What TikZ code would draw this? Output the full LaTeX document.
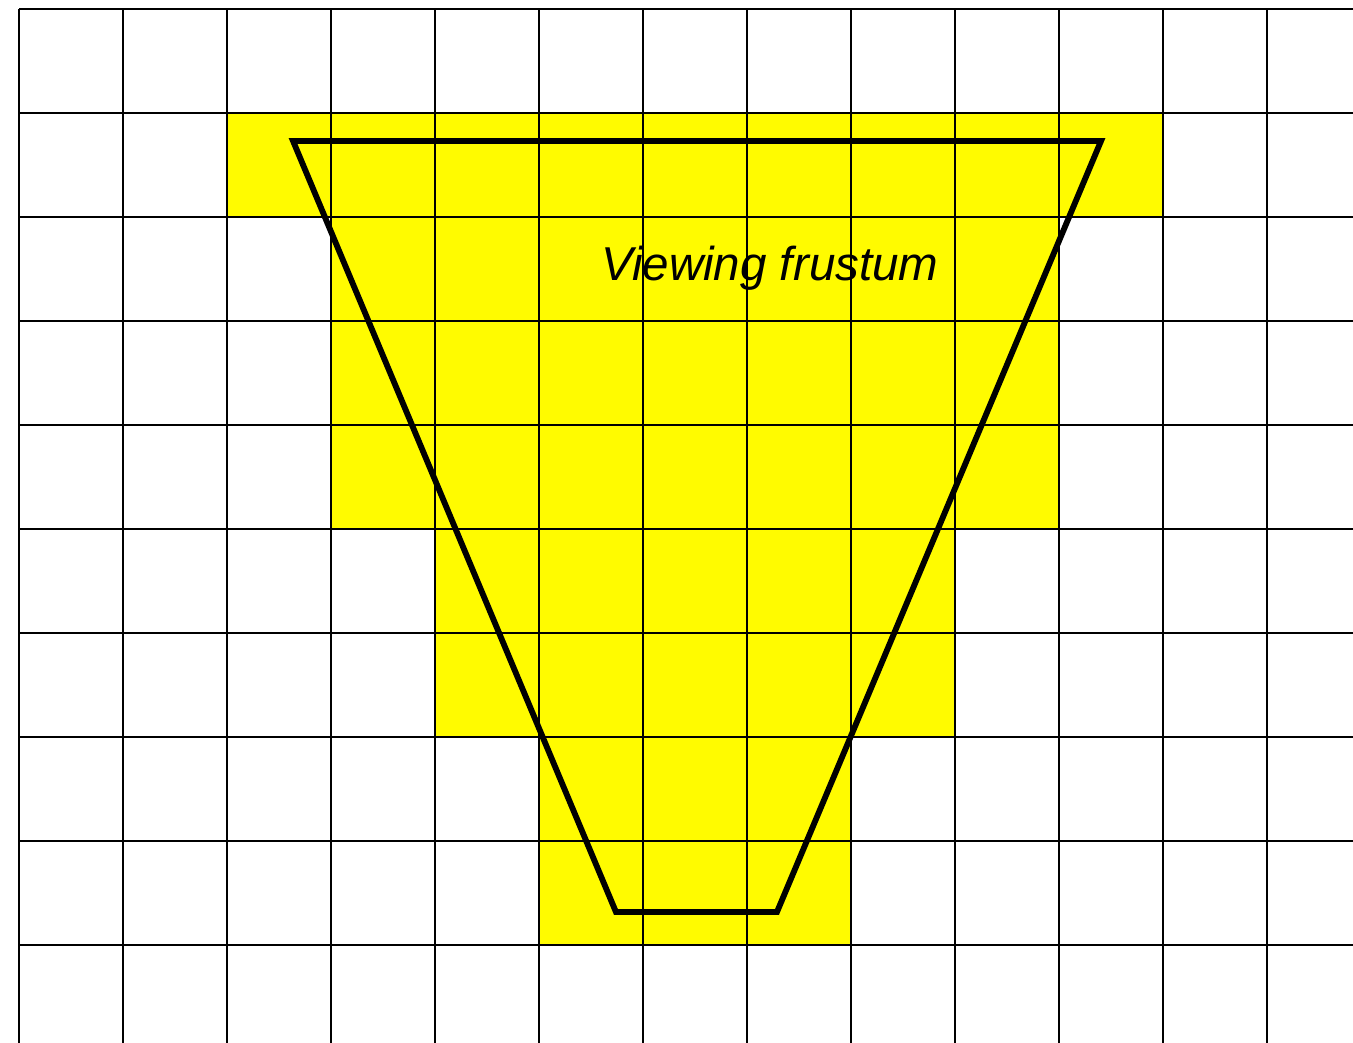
\documentclass[tikz,border=0pt]{standalone}
\usepackage{fontspec}
\setmainfont{Liberation Sans}
\usepackage{xcolor}
\definecolor{cellyellow}{RGB}{255,251,0}

\begin{document}
\begin{tikzpicture}[
  x=1cm, y=1cm,
  cell/.style={fill=cellyellow, draw=none},
  gridline/.style={line width=0.55pt, black},
  frustumline/.style={line width=1.6pt, black, line join=miter},
  lbl/.style={font=\fontsize{13}{15}\selectfont\itshape, inner sep=0pt}
]
\useasboundingbox (-0.183,-0.942) rectangle (12.827,9.087);

% covered cells
\fill[cell] (2,7) rectangle (11,8);
\fill[cell] (3,4) rectangle (10,7);
\fill[cell] (4,2) rectangle (9,4);
\fill[cell] (5,0) rectangle (8,2);

\node[lbl] (title) at (7.22,6.51) {Viewing frustum};

% grid
\foreach \i in {0,...,12}
  \draw[gridline] (\i,-0.942) -- (\i,9);
\foreach \j in {0,...,9}
  \draw[gridline] (0,\j) -- (12.827,\j);

\coordinate (tl) at (2.635,7.731);
\coordinate (tr) at (10.404,7.731);
\coordinate (br) at (7.288,0.317);
\coordinate (bl) at (5.740,0.317);
\draw[frustumline] (tl) -- (tr) -- (br) -- (bl) -- cycle;
\end{tikzpicture}
\end{document}
